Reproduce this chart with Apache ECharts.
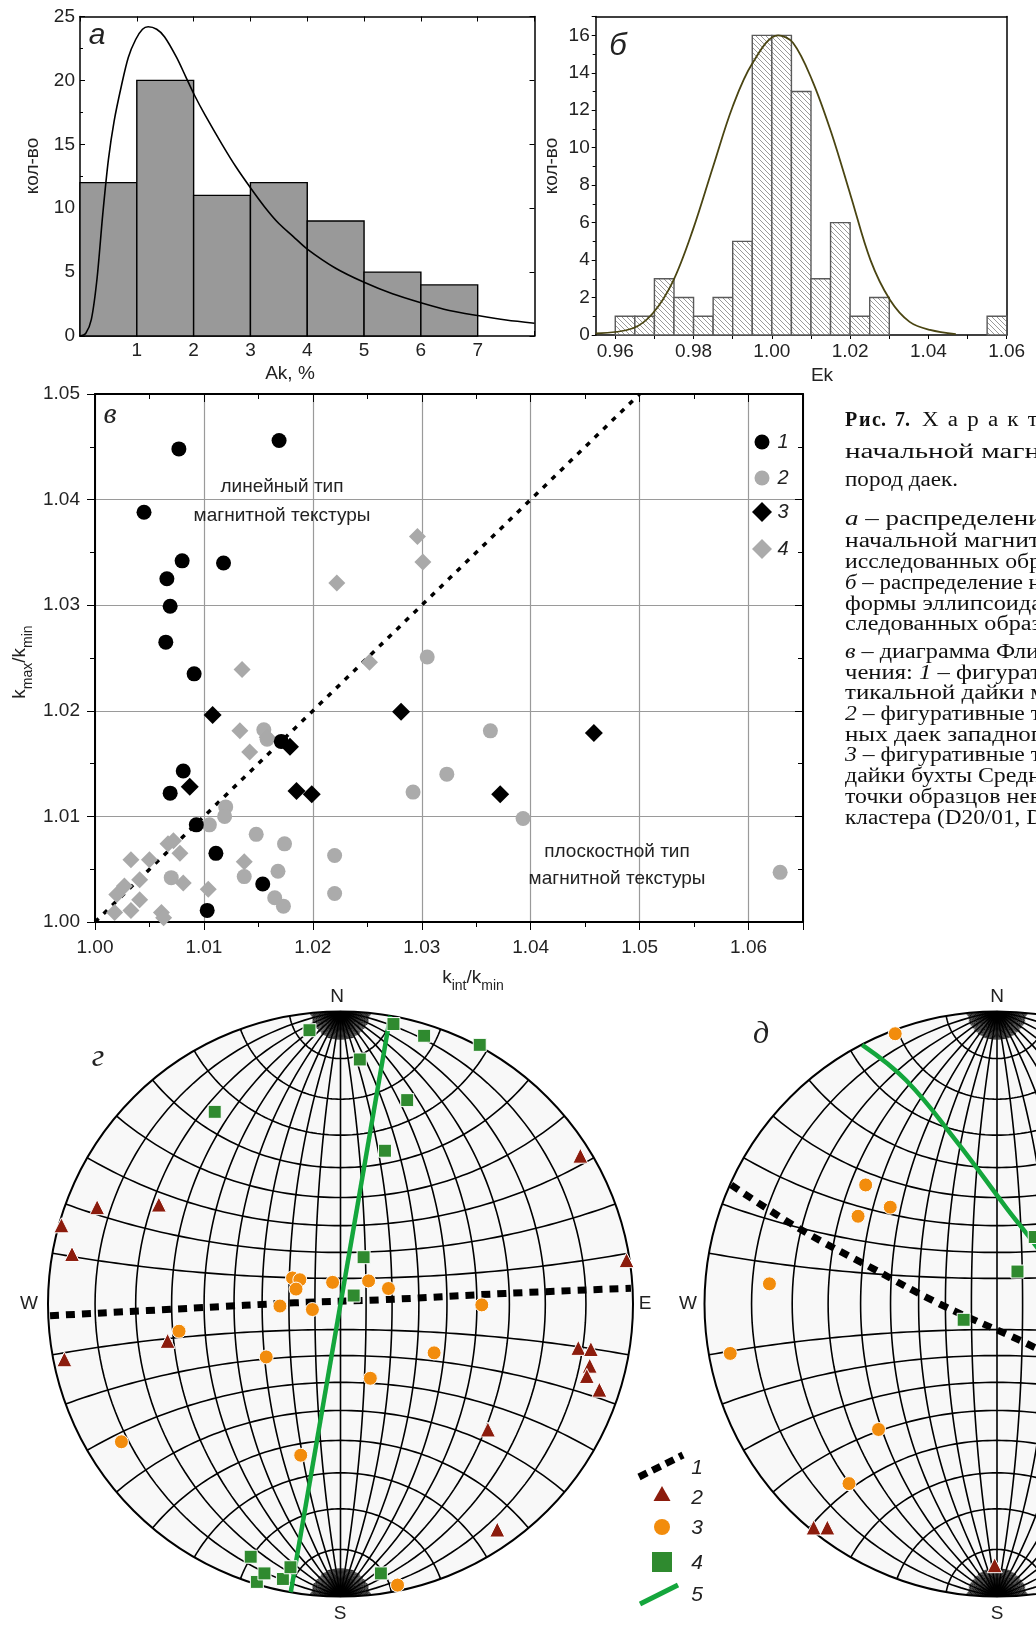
<!DOCTYPE html>
<html><head><meta charset="utf-8">
<script src="https://cdn.jsdelivr.net/npm/echarts@6/dist/echarts.min.js"></script>
<style>html,body{margin:0;padding:0;background:#fff}#c{width:1036px;height:1625px}</style>
</head><body><div id="c"></div>
<script>
// ---------------- DATA ----------------
// panel а: histogram of Ak, %
const histA_binStart = [0, 1, 2, 3, 4, 5, 6];
const histA_count = [12, 20, 11, 12, 9, 5, 4];
const histA_binWidth = 1;
const curveA = [[0,0],[0.1,0.2],[0.2,1.3],[0.3,4.5],[0.4,9.5],[0.5,13.8],[0.6,16.8],[0.73,19.6],[0.85,21.8],[0.98,23.2],[1.1,24.0],[1.2,24.2],[1.35,24.0],[1.49,23.4],[1.7,21.8],[1.86,20.3],[2.02,18.8],[2.2,17.3],[2.5,15.0],[2.75,13.2],[3.0,11.6],[3.25,10.1],[3.5,8.8],[3.75,7.8],[4.0,6.8],[4.5,5.3],[5.0,4.2],[5.5,3.3],[6.0,2.6],[6.5,2.0],[7.0,1.6],[7.5,1.25],[8.0,1.0]];
const ticksA_x = [1, 2, 3, 4, 5, 6, 7];

// panel б: histogram of Ek
const histB_binStart = [0.960,0.965,0.970,0.975,0.980,0.985,0.990,0.995,1.000,1.005,1.010,1.015,1.020,1.025,1.055];
const histB_count = [1,1,3,2,1,2,5,16,16,13,3,6,1,2,1];
const histB_binWidth = 0.005;
const curveB = [[0.955,0.08],[0.9645,0.36],[0.9696,1.16],[0.9747,2.85],[0.9798,5.6],[0.985,9.0],[0.990,12.2],[0.995,14.5],[1.0016,16.0],[1.0054,15.6],[1.0103,13.6],[1.0152,10.8],[1.0202,7.4],[1.0252,4.0],[1.0302,1.87],[1.0352,0.7],[1.0404,0.27],[1.047,0.05]];
const ticksB_x = [0.96, 0.98, 1.00, 1.02, 1.04, 1.06];

// panel в: Flinn diagram (x = kint/kmin, y = kmax/kmin)
const flinn1 = [[1.0077,1.0448],[1.0169,1.0456],[1.0045,1.0388],[1.0080,1.0342],[1.0118,1.0340],[1.0066,1.0325],[1.0069,1.0299],[1.0065,1.0265],[1.0091,1.0235],[1.0081,1.0143],[1.0069,1.0122],[1.0093,1.0092],[1.0111,1.0065],[1.0154,1.0036],[1.0103,1.0011],[1.0171,1.0171]];
const flinn2 = [[1.0305,1.0251],[1.0363,1.0181],[1.0323,1.0140],[1.0292,1.0123],[1.0393,1.0098],[1.0629,1.0047],[1.0220,1.0063],[1.0220,1.0027],[1.0155,1.0182],[1.0158,1.0173],[1.0120,1.0109],[1.0119,1.0100],[1.0105,1.0092],[1.0148,1.0083],[1.0174,1.0074],[1.0168,1.0048],[1.0137,1.0043],[1.0165,1.0023],[1.0173,1.0015],[1.0070,1.0042]];
const flinn3 = [[1.0108,1.0196],[1.0281,1.0199],[1.0458,1.0179],[1.0179,1.0166],[1.0185,1.0124],[1.0199,1.0121],[1.0087,1.0128],[1.0372,1.0121]];
const flinn4 = [[1.0296,1.0365],[1.0301,1.0341],[1.0222,1.0321],[1.0135,1.0239],[1.0252,1.0246],[1.0133,1.0181],[1.0142,1.0161],[1.0158,1.0175],[1.0072,1.0077],[1.0078,1.0065],[1.0067,1.0074],[1.0050,1.0059],[1.0033,1.0059],[1.0041,1.0040],[1.0137,1.0057],[1.0081,1.0037],[1.0104,1.0031],[1.0020,1.0026],[1.0027,1.0034],[1.0041,1.0021],[1.0033,1.0011],[1.0018,1.0009],[1.0061,1.0009],[1.0063,1.0004]];
const flinnDivide = [[1.0, 1.0], [1.05, 1.05]];

// panel г: stereonet (normalised projection coords, radius = 1)
const g_sq = [[-0.106,0.936],[0.181,0.957],[0.286,0.917],[0.476,0.886],[0.066,0.836],[0.228,0.697],[-0.430,0.657],[0.152,0.524],[0.079,0.160],[0.045,0.029],[-0.307,-0.864],[-0.286,-0.950],[-0.260,-0.921],[-0.197,-0.940],[-0.171,-0.900],[0.138,-0.921]];
const g_ci = [[-0.164,0.089],[-0.139,0.083],[-0.152,0.051],[-0.027,0.074],[0.096,0.079],[0.164,0.053],[-0.207,-0.007],[-0.096,-0.019],[0.483,-0.003],[-0.552,-0.093],[-0.254,-0.181],[0.320,-0.167],[0.102,-0.254],[-0.749,-0.471],[-0.136,-0.517],[0.195,-0.961]];
const g_tr = [[0.820,0.507],[-0.832,0.331],[-0.621,0.340],[-0.954,0.269],[-0.918,0.171],[0.978,0.150],[-0.591,-0.126],[-0.944,-0.189],[0.813,-0.150],[0.856,-0.154],[0.852,-0.211],[0.842,-0.246],[0.885,-0.293],[0.504,-0.429],[0.536,-0.771]];
const g_plane1 = [[-0.993,-0.040],[-0.501,-0.014],[-0.157,0.004],[0.131,0.014],[0.562,0.036],[0.993,0.054]];
const g_plane5 = [[0.170,0.985],[-0.170,-0.985]];

// panel д
const d_sq = [[0.070,0.111],[-0.114,-0.054],[0.129,0.229]];
const d_ci = [[-0.348,0.924],[-0.449,0.407],[-0.365,0.331],[-0.475,0.300],[-0.778,0.069],[-0.912,-0.169],[-0.405,-0.429],[-0.506,-0.614]];
const d_tr = [[-0.627,-0.764],[-0.580,-0.764],[-0.008,-0.893]];
const d_plane1 = [[-0.909,0.407],[-0.675,0.257],[-0.424,0.121],[-0.196,0.0],[0.132,-0.150],[0.35,-0.27]];
const d_plane5 = [[-0.461,0.886],[-0.310,0.764],[-0.139,0.557],[0.032,0.329],[0.132,0.200],[0.25,0.03]];

// ---------------- HELPERS ----------------
const SANS = 'Liberation Sans', SERIF = 'Liberation Serif';
const C_RED = '#8c1c0d', C_OR = '#f28c0c', C_GR = '#2f8a2f', C_LINE = '#14a63c';
const NET_R = 292.5;            // stereonet radius, px
const PAGE_W = 1036;

// Wulff net graticule (geometric construction, not data)
function wulffNet() {
  const main = [], fan = [], d = Math.PI / 180, CAP = 84;
  const ycC = 1 / Math.sin(CAP * d), rC = Math.cos(CAP * d) / Math.sin(CAP * d);
  function meridian(lam, capOnly, hemi) {
    const a = Math.abs(lam) * d, s = Math.sign(lam);
    const c = Math.cos(a) / Math.sin(a), R = 1 / Math.sin(a);
    const pts = [], n = capOnly ? 500 : 90;
    for (let i = 0; i <= n; i++) {
      const t = -a + 2 * a * i / n;
      const x = s * (-c + R * Math.cos(t)), y = R * Math.sin(t);
      if (capOnly) {
        const dy = Math.abs(y) - ycC;
        if (x * x + dy * dy > rC * rC || Math.sign(y) !== hemi) continue;
      }
      pts.push([x, y]);
    }
    return pts;
  }
  for (let lam = -80; lam <= 80; lam += 10) {
    if (lam === 0) { main.push([[0, -1], [0, 1]]); continue; }
    main.push(meridian(lam, false));
  }
  for (let phi = 10; phi <= 80; phi += 10) {
    const p = phi * d, yc = 1 / Math.sin(p), r = Math.cos(p) / Math.sin(p);
    [1, -1].forEach(sg => {
      const pts = [];
      for (let i = 0; i <= 90; i++) {
        const t = -Math.PI / 2 - p + 2 * p * i / 90;
        pts.push([r * Math.cos(t), sg * (yc + r * Math.sin(t))]);
      }
      main.push(pts);
    });
  }
  for (let lam = -88; lam <= 88; lam += 2) {
    if (lam % 10 === 0) continue;
    [1, -1].forEach(h => { const p = meridian(lam, true, h); if (p.length > 1) fan.push(p); });
  }
  return { main: main, fan: fan };
}
const NET = wulffNet();

// hatch pattern for panel б
const hatch = document.createElement('canvas');
hatch.width = 5; hatch.height = 5;
(function () {
  const c = hatch.getContext('2d');
  c.fillStyle = '#fff'; c.fillRect(0, 0, 5, 5);
  c.strokeStyle = '#8f8f8f'; c.lineWidth = 0.9;
  c.beginPath();
  c.moveTo(-1, -1); c.lineTo(6, 6);
  c.moveTo(-1, 4); c.lineTo(1, 6);
  c.moveTo(4, -1); c.lineTo(6, 1);
  c.stroke();
})();

function histSeries(xi, starts, counts, width, fill, stroke) {
  return {
    type: 'custom', xAxisIndex: xi, yAxisIndex: xi, z: 2,
    data: starts.map((s, i) => [s, s + width, counts[i]]),
    renderItem: function (params, api) {
      const p0 = api.coord([api.value(0), api.value(2)]);
      const p1 = api.coord([api.value(1), 0]);
      return { type: 'rect', shape: { x: p0[0], y: p0[1], width: p1[0] - p0[0], height: p1[1] - p0[1] },
        style: { fill: fill, stroke: stroke, lineWidth: 1.4 } };
    }
  };
}
function ax(o) {
  return Object.assign({ type: 'value', splitLine: { show: false },
    axisLine: { show: true, onZero: false, lineStyle: { color: '#000', width: 1.5 } },
    axisLabel: { show: false } }, o);
}
const lbl = (o) => Object.assign({ show: true, fontFamily: SANS, fontSize: 19, color: '#222' }, o);

function stereoSeries(i, sq, ci, tr, pl1, pl5) {
  return [
    { type: 'custom', xAxisIndex: i, yAxisIndex: i, z: 1, silent: true, data: [[0, 0]],
      renderItem: function (params, api) {
        const c = api.coord([0, 0]), e = api.coord([0, 1]);
        return { type: 'circle', shape: { cx: c[0], cy: c[1], r: c[1] - e[1] },
          style: { fill: '#f8f8f8', stroke: '#000', lineWidth: 2 } };
      } },
    { type: 'lines', coordinateSystem: 'cartesian2d', xAxisIndex: i, yAxisIndex: i, polyline: true, silent: true, z: 2,
      data: NET.main.map(c => ({ coords: c })), lineStyle: { color: '#000', width: 1.6, opacity: 1 } },
    { type: 'lines', coordinateSystem: 'cartesian2d', xAxisIndex: i, yAxisIndex: i, polyline: true, silent: true, z: 2,
      data: NET.fan.map(c => ({ coords: c })), lineStyle: { color: '#000', width: 0.9, opacity: 1 } },
    { type: 'line', xAxisIndex: i, yAxisIndex: i, data: pl1, smooth: 0.4, showSymbol: false, z: 5,
      lineStyle: { color: '#000', width: 7, type: [9, 7], cap: 'butt' } },
    { type: 'line', xAxisIndex: i, yAxisIndex: i, data: pl5, smooth: 0.4, showSymbol: false, z: 5,
      lineStyle: { color: C_LINE, width: 4.5 } },
    { type: 'scatter', xAxisIndex: i, yAxisIndex: i, data: tr, symbol: 'triangle', symbolSize: 15, z: 6,
      itemStyle: { color: C_RED, borderColor: '#fff', borderWidth: 1, opacity: 1 } },
    { type: 'scatter', xAxisIndex: i, yAxisIndex: i, data: ci, symbol: 'circle', symbolSize: 14, z: 6,
      itemStyle: { color: C_OR, borderColor: '#fff', borderWidth: 1, opacity: 1 } },
    { type: 'scatter', xAxisIndex: i, yAxisIndex: i, data: sq, symbol: 'rect', symbolSize: 13, z: 6,
      itemStyle: { color: C_GR, borderColor: '#fff', borderWidth: 1, opacity: 1 } }
  ];
}

// ---------------- TEXT ----------------
const T = (x, y, text, o) => ({ type: 'text', x: x, y: y, z: 100, silent: true,
  style: Object.assign({ text: text, fontFamily: SANS, fontSize: 19, fill: '#222', textAlign: 'center', textVerticalAlign: 'middle' }, o || {}) });

// caption: [y, rich text, visible part (for justification), right end of visible part]
const caption = [
  [453, 'начальной магнитной восприимчивости', 'начальной магн', 1040],
  [481, 'пород даек.', 'пород даек.', 958],
  [520, '{i|а} – распределение величины', 'а – распределени', 1041],
  [541.5, 'начальной магнитной восприимчивости', 'начальной магнит', 1040],
  [562.5, 'исследованных образцов;', 'исследованных обр', 1041],
  [583.5, '{i|б} – распределение нормированного', 'б – распределение н', 1041],
  [604.5, 'формы эллипсоида анизотропии ис-', 'формы эллипсоида', 1042],
  [625, 'следованных образцов;', 'следованных образ', 1041],
  [653, '{i|в} – диаграмма Флинна для значе-', 'в – диаграмма Фли', 1040],
  [673.5, 'чения: {i|1} – фигуративные точки вер-', 'чения: 1 – фигурат', 1041],
  [694, 'тикальной дайки мыса Тонкого;', 'тикальной дайки м', 1046],
  [715, '{i|2} – фигуративные точки субвертикаль-', '2 – фигуративные т', 1041],
  [735.5, 'ных даек западного побережья;', 'ных даек западног', 1041],
  [756, '{i|3} – фигуративные точки пологой', '3 – фигуративные т', 1041],
  [777, 'дайки бухты Средней; {i|4} – фигуративные', 'дайки бухты Средн', 1041],
  [798, 'точки образцов невошедших в состав', 'точки образцов нев', 1041],
  [818.5, 'кластера (D20/01, D20/02).', 'кластера (D20/01, D', 1043]
];
const CAP_X = 845, CAP_SIZE = 20;
const mctx = document.createElement('canvas').getContext('2d');
function textW(s, size, weight) { mctx.font = (weight || 'normal') + ' ' + size + 'px "' + SERIF + '"'; return mctx.measureText(s).width; }

const graphics = [];
// panel labels
graphics.push(T(97, 36, 'а', { fontStyle: 'italic', fontSize: 30 }));
graphics.push(T(618, 46, 'б', { fontStyle: 'italic', fontSize: 31 }));
graphics.push(T(110, 415, 'в', { fontStyle: 'italic', fontSize: 30, fontFamily: SERIF }));
graphics.push(T(98, 1058, 'г', { fontStyle: 'italic', fontSize: 32, fontFamily: SERIF }));
graphics.push(T(761, 1035, 'д', { fontStyle: 'italic', fontSize: 32, fontFamily: SERIF }));
// axis titles
graphics.push(Object.assign(T(33, 166, 'кол-во'), { rotation: Math.PI / 2 }));
graphics.push(Object.assign(T(552, 166, 'кол-во'), { rotation: Math.PI / 2 }));
graphics.push(T(290, 374, 'Ak, %'));
graphics.push(T(822, 376, 'Ek'));
const subRich = { s: { fontFamily: SANS, fontSize: 14, fill: '#222', verticalAlign: 'bottom', lineHeight: 30 },
  m: { fontFamily: SANS, fontSize: 19, fill: '#222', lineHeight: 30 } };
graphics.push(T(473, 978, '{m|k}{s|int}{m|/k}{s|min}', { rich: subRich }));
graphics.push(Object.assign(T(20, 662, '{m|k}{s|max}{m|/k}{s|min}', { rich: subRich }), { rotation: Math.PI / 2 }));
// annotations in в
graphics.push(T(282, 487, 'линейный тип', { fontSize: 19 }));
graphics.push(T(282, 516, 'магнитной текстуры', { fontSize: 19 }));
graphics.push(T(617, 852, 'плоскостной тип', { fontSize: 19 }));
graphics.push(T(617, 879, 'магнитной текстуры', { fontSize: 19 }));
// legend в
const lgY = [442, 478, 512, 549];
graphics.push({ type: 'circle', z: 100, shape: { cx: 762, cy: lgY[0], r: 7.5 }, style: { fill: '#000' } });
graphics.push({ type: 'circle', z: 100, shape: { cx: 762, cy: lgY[1], r: 7.5 }, style: { fill: '#ababab' } });
graphics.push({ type: 'polygon', z: 100, shape: { points: [[762, lgY[2] - 10], [772, lgY[2]], [762, lgY[2] + 10], [752, lgY[2]]] }, style: { fill: '#000' } });
graphics.push({ type: 'polygon', z: 100, shape: { points: [[762, lgY[3] - 10], [772, lgY[3]], [762, lgY[3] + 10], [752, lgY[3]]] }, style: { fill: '#ababab' } });
['1', '2', '3', '4'].forEach((t, i) => graphics.push(T(783, lgY[i], t, { fontStyle: 'italic', fontSize: 20 })));
// compass letters
[[337, 997, 'N'], [340, 1614, 'S'], [29, 1304, 'W'], [645, 1304, 'E'], [997, 997, 'N'], [997, 1614, 'S'], [688, 1304, 'W']]
  .forEach(a => graphics.push(T(a[0], a[1], a[2], { fontSize: 19 })));
// stereonet legend
graphics.push({ type: 'line', z: 100, shape: { x1: 639, y1: 1477, x2: 683, y2: 1455 }, style: { stroke: '#000', lineWidth: 7, lineDash: [9, 6] } });
graphics.push({ type: 'polygon', z: 100, shape: { points: [[662, 1486], [670.5, 1501], [653.5, 1501]] }, style: { fill: C_RED } });
graphics.push({ type: 'circle', z: 100, shape: { cx: 662, cy: 1527, r: 8 }, style: { fill: C_OR } });
graphics.push({ type: 'rect', z: 100, shape: { x: 652, y: 1552, width: 20, height: 20 }, style: { fill: C_GR } });
graphics.push({ type: 'line', z: 100, shape: { x1: 640, y1: 1604, x2: 678, y2: 1585 }, style: { stroke: C_LINE, lineWidth: 5 } });
[[1468, '1'], [1498, '2'], [1528, '3'], [1563, '4'], [1595, '5']].forEach(a => graphics.push(T(697, a[0], a[1], { fontStyle: 'italic', fontSize: 21 })));
// caption heading (letter-spaced)
const sp = s => s.split('').join('\u2009\u2009');
graphics.push(T(CAP_X, 421, 'Р\u200Aи\u200Aс.\u2009 7.', { textAlign: 'left', fontFamily: SERIF, fontSize: 20, fontWeight: 'bold', fill: '#111' }));
graphics.push(Object.assign(T(922, 421, sp('Характеристики'), { textAlign: 'left', fontFamily: SERIF, fontSize: 20, fill: '#111' }), { scaleX: 1.15 }));
// caption body (justified by horizontal scaling of each line)
caption.forEach(c => {
  const sx = (c[3] - CAP_X) / textW(c[2], CAP_SIZE);
  const el = T(CAP_X, c[0], c[1], {
    textAlign: 'left', fontFamily: SERIF, fontSize: CAP_SIZE, fill: '#111',
    rich: { i: { fontFamily: SERIF, fontSize: CAP_SIZE, fontStyle: 'italic', fill: '#111' } }
  });
  el.scaleX = sx;
  graphics.push(el);
});

// ---------------- OPTION ----------------
const dRight = -1 + (PAGE_W - 704.5) / NET_R; // д net is cut by the page edge
const option = {
  animation: false,
  backgroundColor: '#fff',
  grid: [
    { left: 80, top: 16.5, width: 454.5, height: 319.5 },
    { left: 595.7, top: 16.6, width: 411, height: 318.4 },
    { left: 95, top: 394, width: 708, height: 528 },
    { left: 48, top: 1011.5, width: 2 * NET_R, height: 2 * NET_R },
    { left: 704.5, top: 1011.5, width: PAGE_W - 704.5, height: 2 * NET_R }
  ],
  xAxis: [
    ax({ gridIndex: 0, min: 0, max: 8, interval: 1, position: 'bottom',
      axisTick: { show: true, inside: true, length: 5 },
      axisLabel: lbl({ margin: 5, formatter: v => ticksA_x.indexOf(v) >= 0 ? String(v) : '' }) }),
    ax({ gridIndex: 0, min: 0, max: 8, interval: 1, position: 'top', axisTick: { show: true, inside: true, length: 5 } }),
    ax({ gridIndex: 1, min: 0.955, max: 1.06, interval: 0.005, position: 'bottom',
      axisTick: { show: true, inside: false, length: 4, customValues: [0.96,0.97,0.98,0.99,1.0,1.01,1.02,1.03,1.04,1.05,1.06] },
      axisLabel: lbl({ margin: 7, customValues: ticksB_x,
        formatter: v => { const k = Math.round(v * 1000); return (k % 20 === 0) ? (k / 1000).toFixed(2) : ''; } }) }),
    ax({ gridIndex: 1, min: 0.955, max: 1.06, interval: 0.005, position: 'top', axisTick: { show: false } }),
    ax({ gridIndex: 2, min: 1.0, max: 1.065, interval: 0.01, position: 'bottom',
      axisLine: { show: true, onZero: false, lineStyle: { color: '#000', width: 2 } },
      axisTick: { show: true, inside: false, length: 8 }, minorTick: { show: true, splitNumber: 2, length: 5, lineStyle: { color: '#000' } },
      splitLine: { show: true, lineStyle: { color: '#9a9a9a', width: 1.2 } },
      axisLabel: lbl({ margin: 16, fontSize: 19, showMaxLabel: false,
        formatter: v => { const k = Math.round(v * 1000); return (k % 10 === 0) ? (k / 1000).toFixed(2) : ''; } }) }),
    ax({ gridIndex: 2, min: 1.0, max: 1.065, interval: 0.01, position: 'top',
      axisLine: { show: true, onZero: false, lineStyle: { color: '#000', width: 2 } },
      axisTick: { show: true, inside: true, length: 8 }, minorTick: { show: true, splitNumber: 2, length: 5, lineStyle: { color: '#000' } } }),
    { gridIndex: 3, type: 'value', min: -1, max: 1, show: false },
    { gridIndex: 4, type: 'value', min: -1, max: dRight, show: false }
  ],
  yAxis: [
    ax({ gridIndex: 0, min: 0, max: 25, interval: 5, position: 'left',
      axisTick: { show: true, inside: true, length: 5 }, minorTick: { show: true, splitNumber: 2, length: 3, lineStyle: { color: '#000' } },
      axisLabel: lbl({ margin: 5 }) }),
    ax({ gridIndex: 0, min: 0, max: 25, interval: 5, position: 'right', axisTick: { show: true, inside: true, length: 5 } }),
    ax({ gridIndex: 1, min: 0, max: 17, interval: 2, position: 'left',
      axisTick: { show: true, inside: false, length: 4 }, minorTick: { show: true, splitNumber: 2, length: 3, lineStyle: { color: '#000' } },
      axisLabel: lbl({ margin: 6, showMaxLabel: false, formatter: v => (v % 2 === 0 ? String(v) : '') }) }),
    ax({ gridIndex: 1, min: 0, max: 17, interval: 2, position: 'right', axisTick: { show: false } }),
    ax({ gridIndex: 2, min: 1.0, max: 1.05, interval: 0.01, position: 'left',
      axisLine: { show: true, onZero: false, lineStyle: { color: '#000', width: 2 } },
      axisTick: { show: true, inside: false, length: 8 }, minorTick: { show: true, splitNumber: 2, length: 5, lineStyle: { color: '#000' } },
      splitLine: { show: true, lineStyle: { color: '#9a9a9a', width: 1.2 } },
      axisLabel: lbl({ margin: 15, formatter: v => v.toFixed(2) }) }),
    ax({ gridIndex: 2, min: 1.0, max: 1.05, interval: 0.01, position: 'right',
      axisLine: { show: true, onZero: false, lineStyle: { color: '#000', width: 2 } },
      axisTick: { show: true, inside: true, length: 8 }, minorTick: { show: true, splitNumber: 2, length: 5, lineStyle: { color: '#000' } } }),
    { gridIndex: 3, type: 'value', min: -1, max: 1, show: false },
    { gridIndex: 4, type: 'value', min: -1, max: 1, show: false }
  ],
  series: [
    histSeries(0, histA_binStart, histA_count, histA_binWidth, '#999999', '#000'),
    { type: 'line', xAxisIndex: 0, yAxisIndex: 0, data: curveA, smooth: 0.3, showSymbol: false, z: 5,
      lineStyle: { color: '#000', width: 1.6 } },
    histSeries(2, histB_binStart, histB_count, histB_binWidth, { image: hatch, repeat: 'repeat' }, '#5a5a5a'),
    { type: 'line', xAxisIndex: 2, yAxisIndex: 2, data: curveB, smooth: 0.35, showSymbol: false, z: 5,
      lineStyle: { color: '#4a4512', width: 1.8 } },
    { type: 'line', xAxisIndex: 4, yAxisIndex: 4, data: flinnDivide, showSymbol: false, z: 3,
      lineStyle: { color: '#000', width: 3.5, type: [5, 7] } },
    { type: 'scatter', xAxisIndex: 4, yAxisIndex: 4, data: flinn2, symbol: 'circle', symbolSize: 15, z: 4,
      itemStyle: { color: '#ababab', opacity: 1 } },
    { type: 'scatter', xAxisIndex: 4, yAxisIndex: 4, data: flinn4, symbol: 'diamond', symbolSize: 17, z: 4,
      itemStyle: { color: '#a9a9a9', opacity: 1 } },
    { type: 'scatter', xAxisIndex: 4, yAxisIndex: 4, data: flinn1, symbol: 'circle', symbolSize: 15, z: 5,
      itemStyle: { color: '#000', opacity: 1 } },
    { type: 'scatter', xAxisIndex: 4, yAxisIndex: 4, data: flinn3, symbol: 'diamond', symbolSize: 18, z: 5,
      itemStyle: { color: '#000', opacity: 1 } }
  ].concat(stereoSeries(6, g_sq, g_ci, g_tr, g_plane1, g_plane5))
   .concat(stereoSeries(7, d_sq, d_ci, d_tr, d_plane1, d_plane5)),
  graphic: graphics
};
const chart = echarts.init(document.getElementById('c'), null, { renderer: 'canvas' });
chart.setOption(option);
</script></body></html>
